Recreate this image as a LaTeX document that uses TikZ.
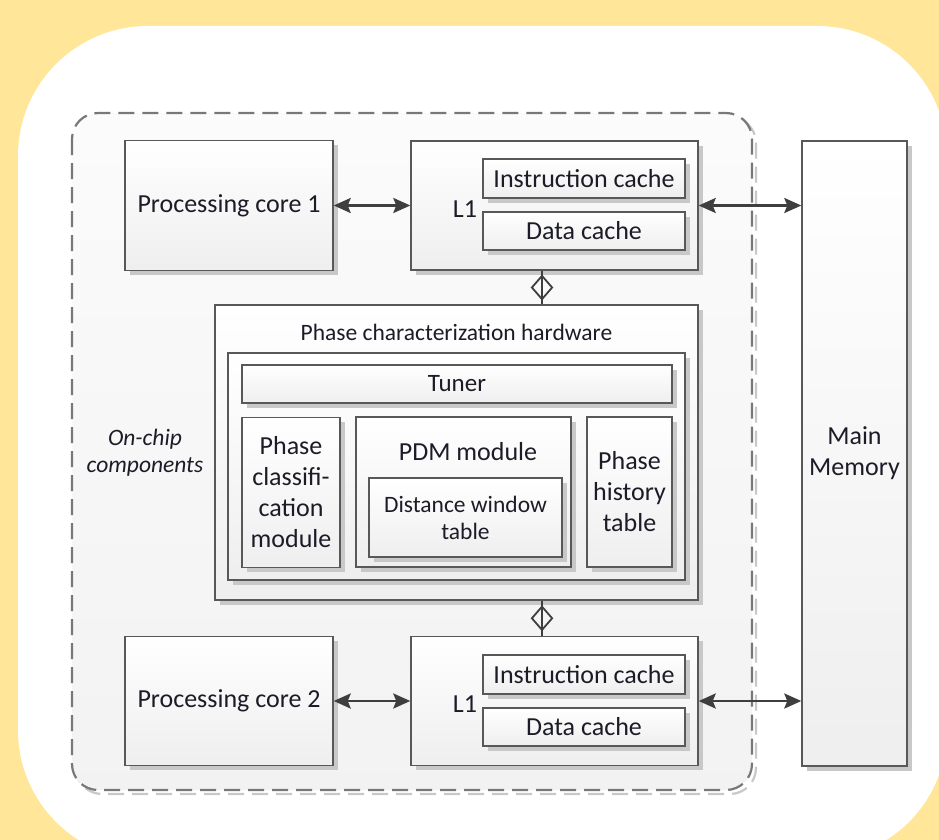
\documentclass[tikz,border=0pt]{standalone}
\usepackage{fontspec}
\setmainfont{Carlito}
\usetikzlibrary{shapes.geometric,shadows,arrows.meta,calc}
\definecolor{bgy}{RGB}{255,230,153}
\definecolor{edge}{RGB}{88,88,88}
\definecolor{shad}{RGB}{200,200,200}
\definecolor{txt}{RGB}{28,28,40}
\definecolor{arr}{RGB}{62,62,62}
\definecolor{dash}{RGB}{120,120,120}
\begin{document}
\begin{tikzpicture}[x=1pt,y=-1pt,
  box/.style={draw=edge, line width=1.4pt, top color=white, bottom color=gray!13,
    inner sep=0pt, drop shadow={shadow xshift=4.5pt, shadow yshift=-4.5pt, fill=shad, opacity=1},
    text=txt, font=\fontsize{26}{31}\selectfont, align=center},
  lbl/.style={text=txt, font=\fontsize{26}{31}\selectfont, align=center, inner sep=0pt},
  small/.style={text=txt, font=\fontsize{23.5}{27}\selectfont, align=center, inner sep=0pt},
  twoway/.style={draw=arr, line width=2.6pt, {Stealth[length=17pt,width=15pt,inset=3pt]}-{Stealth[length=17pt,width=15pt,inset=3pt]}},
  link/.style={draw=arr, line width=1.8pt},
  dmd/.style={diamond, draw=arr, line width=1.8pt, minimum width=21pt, minimum height=24pt, inner sep=0pt},
  chipline/.style={line width=2.2pt, dash pattern=on 16pt off 8pt, rounded corners=26pt}
]
\useasboundingbox (0,0) rectangle (939,840);
\clip (0,0) rectangle (939,840);
\fill[bgy] (0,0) rectangle (939,840);
\fill[white, rounded corners=130pt] (18,26) rectangle (947,860);

% on-chip region
\draw[chipline, draw=shad] (76,117) rectangle (756,794);
\draw[chipline, draw=dash, top color=gray!3, bottom color=gray!10] (72,113) rectangle (752,790);
\node[small, font=\fontsize{23.5}{27}\selectfont\itshape] (onchip) at (145,453) {On-chip\\components};

% main memory
\node[box, minimum width=105pt, minimum height=625pt] (mem) at (854.5,453.5) {Main\\Memory};

% top core and L1
\node[box, minimum width=208pt, minimum height=130pt] (core1) at (229,205.5) {Processing core 1};
\node[box, minimum width=287pt, minimum height=129pt] (L1a) at (554.5,205.5) {};
\node[lbl] (L1alab) at (465,209) {L1};
\node[box, minimum width=202pt, minimum height=39pt] (ic1) at (584,178.5) {Instruction cache};
\node[box, minimum width=202pt, minimum height=38pt] (dc1) at (584,231) {Data cache};

% bottom core and L1
\node[box, minimum width=208pt, minimum height=129pt] (core2) at (229,701) {Processing core 2};
\node[box, minimum width=287pt, minimum height=129pt] (L1b) at (554.5,701) {};
\node[lbl] (L1blab) at (465,704) {L1};
\node[box, minimum width=202pt, minimum height=39pt] (ic2) at (584,674.5) {Instruction cache};
\node[box, minimum width=202pt, minimum height=38pt] (dc2) at (584,727) {Data cache};

% phase characterization hardware
\node[box, minimum width=483pt, minimum height=295pt] (pch) at (456.5,452.5) {};
\node[small] (pchlab) at (456.5,332) {Phase characterization hardware};
\node[box, minimum width=457pt, minimum height=227pt] (inner) at (456.5,466.5) {};
\node[box, minimum width=430pt, minimum height=38pt, font=\fontsize{25}{31}\selectfont] (tuner) at (457,384) {Tuner};
\node[box, minimum width=98pt, minimum height=150pt] (pcm) at (291,492.5) {Phase\\classifi-\\cation\\module};
\node[box, minimum width=215pt, minimum height=150pt] (pdm) at (463.5,492) {};
\node[lbl] (pdmlab) at (468,452) {PDM module};
\node[box, minimum width=193pt, minimum height=79pt, font=\fontsize{23.5}{27}\selectfont] (dwt) at (465.5,517.5) {Distance window\\table};
\node[box, minimum width=85pt, minimum height=150pt] (pht) at (629.5,492) {Phase\\history\\table};

% connectors
\draw[twoway] (core1.east) -- (L1a.west);
\draw[twoway] (L1a.east) -- (L1a.east -| mem.west);
\draw[twoway] (core2.east) -- (L1b.west);
\draw[twoway] (L1b.east) -- (L1b.east -| mem.west);

\coordinate (k1) at ([xshift=-12.5pt]L1a.south);
\coordinate (k2) at ([xshift=-12.5pt]L1b.north);
\draw[link] (k1) -- (k1 |- pch.north) node[midway, dmd] (dm1) {};
\draw[link] (k2) -- (k2 |- pch.south) node[midway, dmd] (dm2) {};
\end{tikzpicture}
\end{document}
